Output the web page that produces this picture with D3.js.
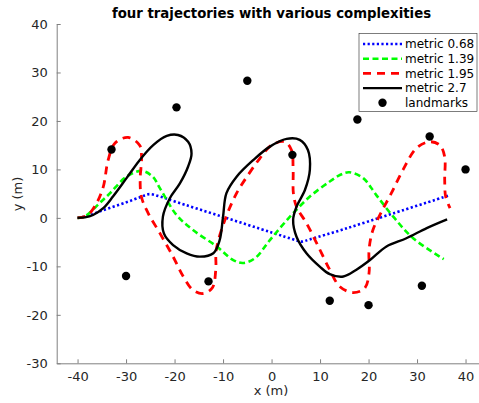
<!DOCTYPE html>
<html>
<head>
<meta charset="utf-8">
<script src="https://cdn.jsdelivr.net/npm/d3@7"></script>
<style>
  body { margin: 0; background: #fff; }
  text { font-family: "DejaVu Sans", sans-serif; fill: #262626; }
</style>
</head>
<body>
<svg id="chart" width="479" height="403"></svg>
<script>
// trajectories, [x, y] in metres
var blueTraj = [[-40,0],[-38,0.4],[-35,1.5],[-30,3.2],[-27,4.3],[-25.2,4.9],[-23,4.4],[-20,3.4],
  [-10,0.2],[0,-3.0],[5,-4.6],[6.2,-4.9],[8,-4.4],[15,-2.3],[25,0.9],[36.8,4.7]];

var greenTraj = [[-40,0],[-38.5,0.3],[-35.5,3.0],[-33.3,5.1],[-29.9,8.5],[-26.8,9.7],[-24.5,8.5],[-23,6.1],
  [-19.6,0.6],[-16.2,-2.5],[-11.3,-5.9],[-7.9,-8.7],[-5.9,-9.3],[-3.4,-8.3],[-0.35,-4.6],
  [3.8,0.25],[7.9,4.4],[12.0,7.5],[14.2,8.9],[16.0,9.4],[18.9,8.2],[21.6,4.7],[25.1,0.25],
  [29.2,-4.2],[35.5,-8.5]];

var redTraj = [[-40,0],[-38,0.5],[-36.2,2.8],[-34.7,6.4],[-33.7,11.9],[-32.3,15.4],[-29.6,16.6],
  [-27.2,15.0],[-26.8,12.6],[-27.1,7.8],[-26.8,4.2],[-25.4,0.9],[-23,-3.2],[-20.3,-8.0],
  [-18.2,-12.1],[-16.2,-14.9],[-14.1,-15.6],[-12.2,-14.4],[-11.5,-10.7],[-11.4,-6.6],
  [-9.6,-0.4],[-7.2,5.1],[-4.8,8.9],[-2.4,12.3],[0,15.0],[2.7,15.7],[4.1,14.0],[4.45,9.9],
  [4.5,5.1],[5.15,2.3],[7.2,-1.1],[9.3,-5.2],[12.0,-10.7],[14.1,-14.2],[16.8,-15.4],
  [19.2,-14.5],[20.1,-11.4],[20.1,-6.6],[20.9,-2.5],[22.7,1.3],[24.7,5.1],[27.1,9.9],
  [29.9,14.4],[32.6,15.7],[34.7,15.0],[35.7,12.6],[35.7,7.8],[35.9,4.4],[36.8,2.0]];

var blackTraj = [[-40,0],[-38.5,0.1],[-36.8,0.6],[-34.7,2.0],[-32.7,4.4],[-29.9,8.2],[-27.2,11.9],
  [-24.4,15.0],[-21.6,16.9],[-19.3,17.1],[-17.2,15.7],[-16.5,13.3],[-17.2,10.6],[-18.9,7.1],
  [-21.0,4.0],[-22.4,0.25],[-22.2,-3.2],[-20.3,-5.6],[-17.5,-7.3],[-14.8,-8.0],[-12.0,-7.3],
  [-10.7,-4.6],[-10.0,0.25],[-9.3,5.1],[-7.2,8.5],[-3.8,11.9],[-0.35,14.7],[3.1,16.3],
  [5.8,16.1],[7.5,14.0],[7.9,9.9],[6.9,5.8],[5.15,2.3],[4.45,-0.4],[5.15,-3.9],[7.2,-7.3],
  [10.0,-10.1],[12.0,-11.6],[14.8,-12.1],[17.5,-10.7],[20.3,-8.7],[23.7,-5.9],[27.8,-4.2],
  [32.0,-2.1],[36.2,-0.3]];

var landmarks = [[-33,14.1],[-19.6,22.8],[-5,28.3],[-30,-12],[-13,-13.1],[4.3,13],
  [17.7,20.3],[32.6,16.8],[40,10],[31,-14],[12,-17.1],[20,-18]];

var seriesNames = ["metric 0.68", "metric 1.39", "metric 1.95", "metric 2.7"];
var xTicks = [-40, -30, -20, -10, 0, 10, 20, 30, 40];
var yTicks = [-30, -20, -10, 0, 10, 20, 30, 40];

var svg = d3.select("#chart");

// axis equal: both about 4.85 px per metre
var xScale = d3.scaleLinear().domain([-44.3, 44.3]).range([56.7, 486.4]);
var yScale = d3.scaleLinear().domain([-30, 40]).range([363.3, 24]);

// x axis
var xAxis = svg.append("g")
  .attr("transform", "translate(0," + yScale(-30) + ")")
  .call(d3.axisBottom(xScale).tickValues(xTicks).tickSizeInner(-4).tickSizeOuter(0).tickPadding(8));
xAxis.select(".domain").attr("stroke", "#808080");
xAxis.selectAll(".tick line").attr("stroke", "#808080");
xAxis.selectAll(".tick text").style("font-size", "13px").style("fill", "#262626")
  .text(function(d) { return d < 0 ? "-" + Math.abs(d) : d; });

// y axis
var yAxis = svg.append("g")
  .attr("transform", "translate(" + xScale(-44.3) + ",0)")
  .call(d3.axisLeft(yScale).tickValues(yTicks).tickSizeInner(-4).tickSizeOuter(0).tickPadding(9));
yAxis.select(".domain").attr("stroke", "#808080");
yAxis.selectAll(".tick line").attr("stroke", "#808080");
yAxis.selectAll(".tick text").style("font-size", "13px").style("fill", "#262626")
  .text(function(d) { return d < 0 ? "-" + Math.abs(d) : d; });

// labels and title
svg.append("text").attr("x", 271).attr("y", 395).attr("text-anchor", "middle")
  .style("font-size", "13px").text("x (m)");
svg.append("text").attr("transform", "translate(22,194) rotate(-90)").attr("text-anchor", "middle")
  .style("font-size", "13px").text("y (m)");
svg.append("text").attr("x", 271.5).attr("y", 18).attr("text-anchor", "middle")
  .style("font-size", "13.3px").style("font-weight", "bold").style("fill", "#000")
  .text("four trajectories with various complexities");

var line = d3.line()
  .x(function(d) { return xScale(d[0]); })
  .y(function(d) { return yScale(d[1]); })
  .curve(d3.curveCatmullRom.alpha(0.5));

var styles = [
  { color: "#0000ff", dash: "2.2,2.4", width: 2.6, data: blueTraj },
  { color: "#00ff00", dash: "6,3.5", width: 2.6, data: greenTraj },
  { color: "#ff0000", dash: "8,6", width: 2.8, data: redTraj },
  { color: "#000000", dash: null, width: 2.4, data: blackTraj }
];

styles.forEach(function(s) {
  svg.append("path")
    .datum(s.data)
    .attr("d", line)
    .attr("fill", "none")
    .attr("stroke", s.color)
    .attr("stroke-width", s.width)
    .attr("stroke-dasharray", s.dash);
});

// landmarks
svg.selectAll(".dot")
  .data(landmarks)
  .enter().append("circle")
  .attr("class", "dot")
  .attr("cx", function(d) { return xScale(d[0]); })
  .attr("cy", function(d) { return yScale(d[1]); })
  .attr("r", 4.2)
  .attr("fill", "#000");

// legend
var legend = svg.append("g").attr("transform", "translate(359,33.5)");
legend.append("rect")
  .attr("width", 118).attr("height", 78)
  .attr("fill", "#fff").attr("stroke", "#262626").attr("stroke-width", 0.6);

var rows = legend.selectAll(".legend")
  .data(seriesNames.concat(["landmarks"]))
  .enter().append("g")
  .attr("class", "legend")
  .attr("transform", function(d, i) { return "translate(0," + (10.5 + i * 14.7) + ")"; });

rows.each(function(d, i) {
  var g = d3.select(this);
  if (i < styles.length) {
    g.append("line")
      .attr("x1", 4).attr("x2", 43).attr("y1", 0).attr("y2", 0)
      .attr("stroke", styles[i].color)
      .attr("stroke-width", styles[i].width)
      .attr("stroke-dasharray", styles[i].dash);
  } else {
    g.append("circle").attr("cx", 23.5).attr("cy", 0).attr("r", 4.2).attr("fill", "#000");
  }
  g.append("text")
    .attr("x", 46).attr("y", 0).attr("dy", "0.35em")
    .style("font-size", "12px")
    .style("fill", "#000")
    .text(d);
});
</script>
</body>
</html>
